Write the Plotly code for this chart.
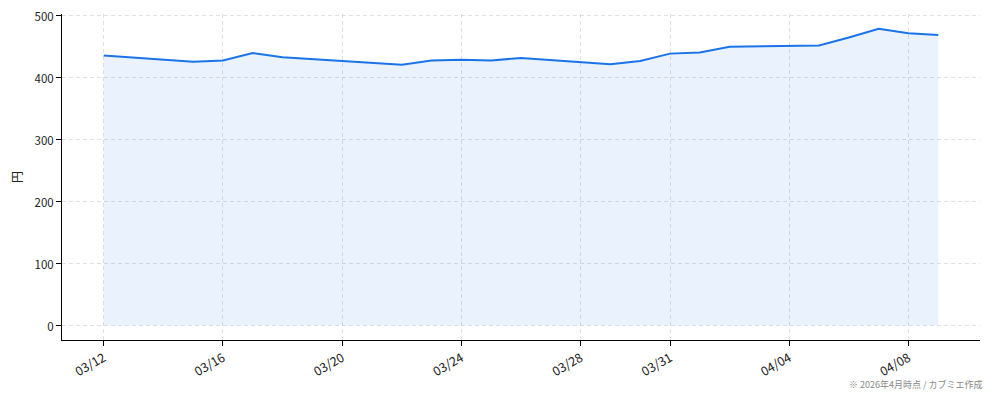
import pandas as pd
import plotly.graph_objects as go

# 終値（円）
dates = ["2026-03-12", "2026-03-15", "2026-03-16", "2026-03-17", "2026-03-18",
         "2026-03-22", "2026-03-23", "2026-03-24", "2026-03-25", "2026-03-26",
         "2026-03-29", "2026-03-30", "2026-03-31", "2026-04-01", "2026-04-02",
         "2026-04-05", "2026-04-06", "2026-04-07", "2026-04-08", "2026-04-09"]
prices = [435, 425, 427, 439, 432,
          420, 427, 428, 427, 431,
          421, 426, 438, 440, 449,
          451, 464, 478, 471, 468]
tick_dates = ["2026-03-12", "2026-03-16", "2026-03-20", "2026-03-24",
              "2026-03-28", "2026-03-31", "2026-04-04", "2026-04-08"]
tick_text = ["03/12", "03/16", "03/20", "03/24", "03/28", "03/31", "04/04", "04/08"]
y_ticks = [0, 100, 200, 300, 400, 500]

font = "Noto Sans CJK JP, Noto Sans, sans-serif"
line_color = "#1a73e8"
grid_color = "rgba(176,176,196,0.4)"

# matplotlib風の5%マージン
d = pd.to_datetime(dates)
span = d.max() - d.min()
x_range = [d.min() - span * 0.05, d.max() + span * 0.05]
ymax = max(prices)
y_range = [-ymax * 0.05, ymax * 1.05]

fig = go.Figure()
fig.add_trace(go.Scatter(
    x=d, y=prices, mode="lines",
    line=dict(color=line_color, width=2),
    fill="tozeroy", fillcolor="rgba(26,115,232,0.09)",
    hoverinfo="x+y",
))

# ページ本体の8pxの余白を見込んでサイズを詰める
fig.update_layout(
    width=986, height=392,
    margin=dict(l=54, r=14, t=6, b=60),
    paper_bgcolor="white", plot_bgcolor="white",
    font=dict(family=font, size=12, color="#222"),
    showlegend=False,
)
fig.update_xaxes(
    range=x_range, automargin=False,
    tickvals=pd.to_datetime(tick_dates), ticktext=tick_text,
    tickangle=-30, tickfont=dict(size=12.5),
    showline=True, linecolor="black", linewidth=1,
    ticks="outside", ticklen=5, tickcolor="black",
    showgrid=True, gridcolor=grid_color, griddash="4px,3px", gridwidth=1,
    zeroline=False,
)
fig.update_yaxes(
    range=y_range, tickvals=y_ticks, automargin=False,
    tickfont=dict(size=11.5), ticklabeloverflow="allow", ticklabelshift=2,
    title=dict(text="円", standoff=10, font=dict(size=12)),
    showline=True, linecolor="black", linewidth=1,
    ticks="outside", ticklen=5, tickcolor="black",
    showgrid=True, gridcolor=grid_color, griddash="4px,3px", gridwidth=1,
    zeroline=False,
)
fig.add_annotation(
    text="※ 2026年4月時点 / カブミエ作成",
    xref="paper", yref="paper", x=1.0, y=-0.138,
    xanchor="right", yanchor="middle", xshift=5,
    showarrow=False, font=dict(size=9, color="#888"),
)

fig.write_html("out.html")
